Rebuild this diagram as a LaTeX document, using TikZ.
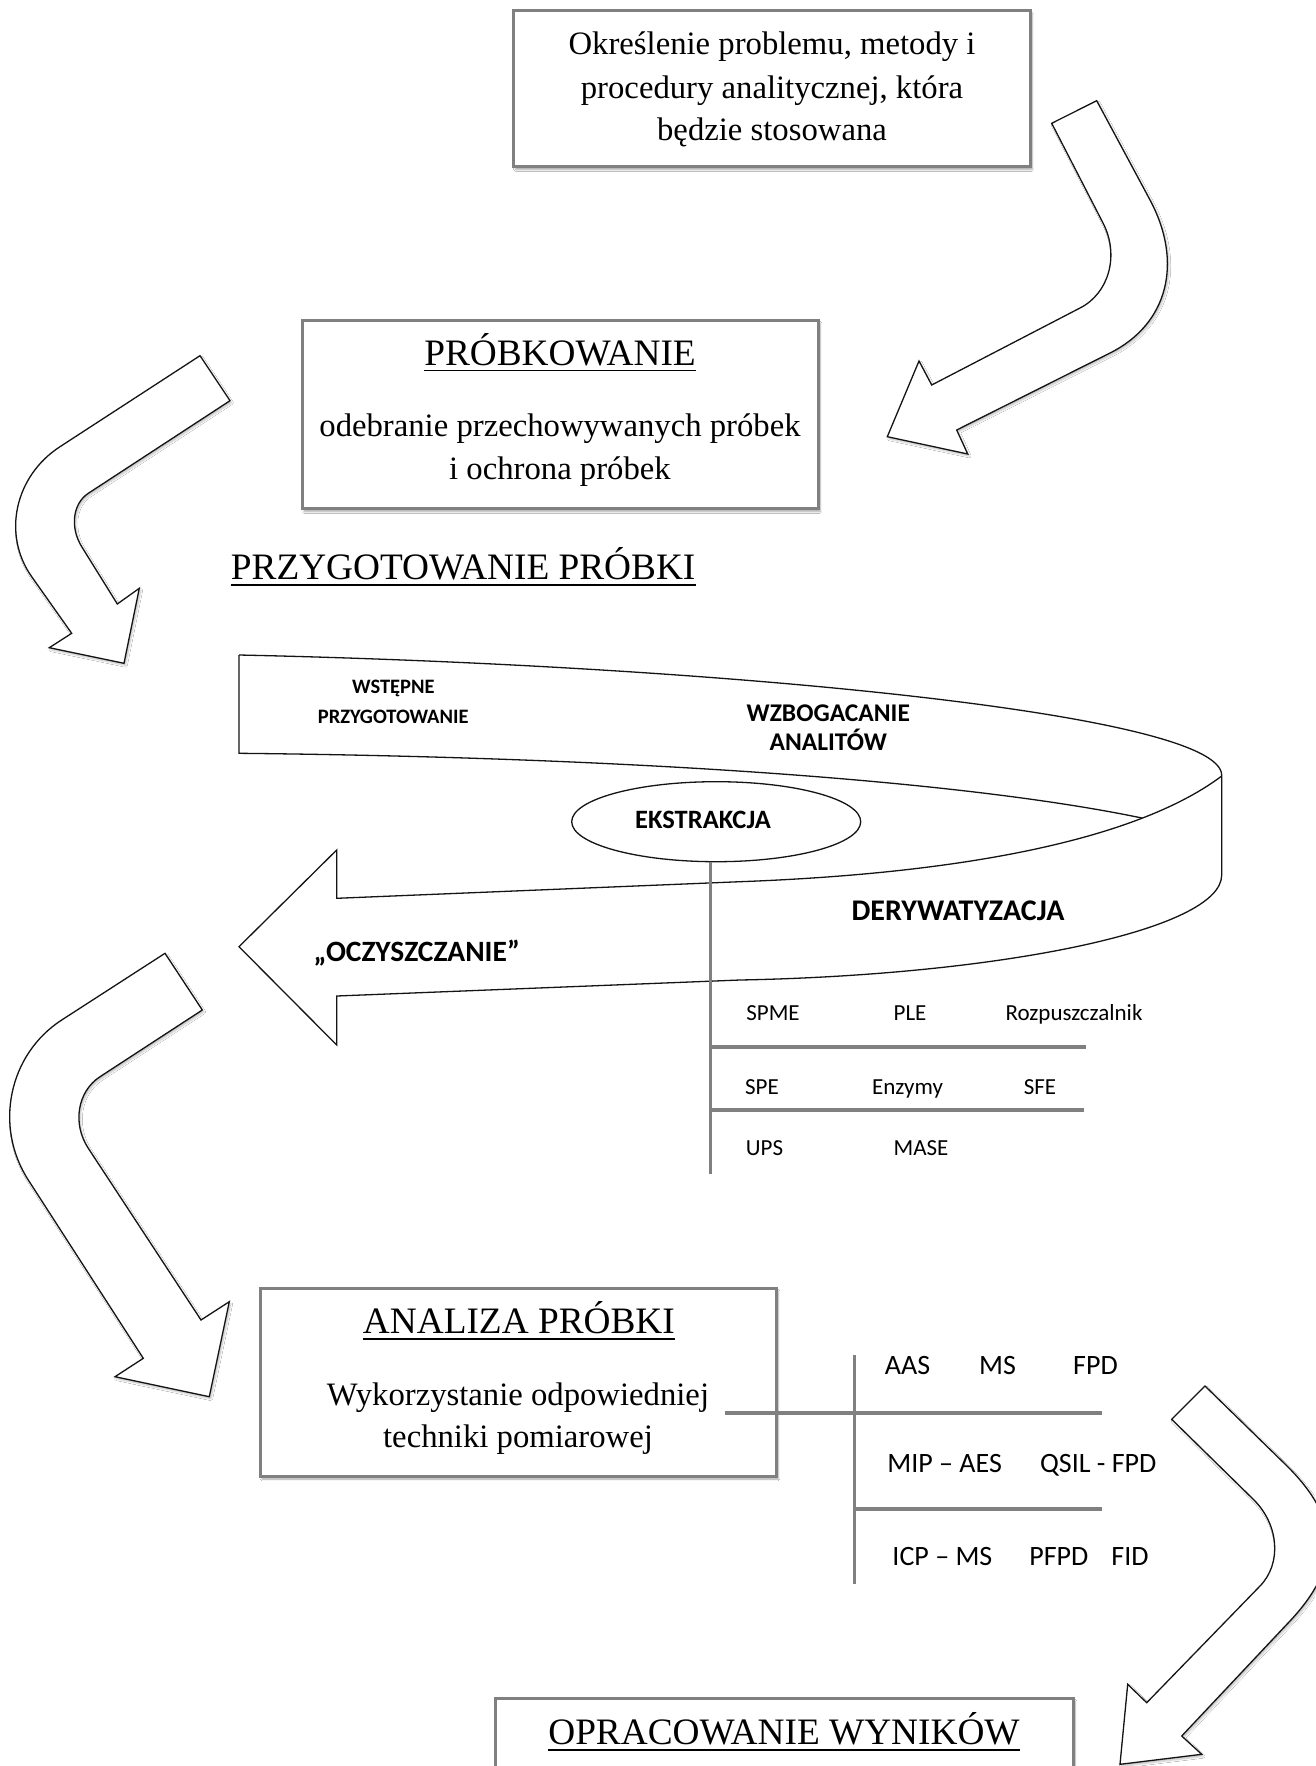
\documentclass[tikz,border=0pt]{standalone}
\usepackage{fontspec}
\setmainfont{Liberation Serif}
\newfontfamily\carl{Carlito}
\usetikzlibrary{shapes.geometric,shadows.blur}
\definecolor{boxgray}{RGB}{128,128,128}
\definecolor{linegray}{RGB}{128,128,128}
\definecolor{ink}{RGB}{20,20,20}
\begin{document}
\begin{tikzpicture}[x=1pt,y=-1pt,
  box/.style={draw=boxgray, line width=3pt, fill=white, rectangle, inner sep=0pt,
    blur shadow={shadow xshift=2pt, shadow yshift=-3pt, shadow opacity=35, shadow blur steps=6}},
  serif/.style={inner sep=0pt, anchor=base, font=\fontsize{32.7}{40}\selectfont},
  titletxt/.style={inner sep=0pt, anchor=base, font=\fontsize{37.3}{44}\selectfont},
  ul/.style={line width=1.8pt},
  blockarrow/.style={draw=ink, line width=1.3pt, fill=white, line join=miter,
    blur shadow={shadow xshift=1.5pt, shadow yshift=-2pt, shadow opacity=25, shadow blur steps=5}},
  ribbon/.style={draw=ink, line width=1.3pt},
  gline/.style={draw=linegray, line width=3pt},
  gthick/.style={draw=linegray, line width=4pt},
  sbold/.style={inner sep=0pt, anchor=base, font=\carl\bfseries\fontsize{#1}{#1}\selectfont},
  sreg/.style={inner sep=0pt, anchor=base, font=\carl\fontsize{#1}{#1}\selectfont}
]
\path[use as bounding box, fill=white] (0,0) rectangle (1315,1766);

% ---------- block arrows ----------
% A (top right)
\draw[blockarrow] (1051.7,123.3) -- (1103,223) .. controls (1119.5,254.9) and (1109.2,293.2) .. (1080,308)
  -- (931.7,385) -- (919,361) -- (887.3,436.7) -- (967.7,454) -- (956.7,430) -- (1110,353)
  .. controls (1167.6,324.2) and (1183.6,263) .. (1150,200) -- (1096.7,100.7) -- cycle;
% B (upper left)
\draw[blockarrow] (200,355.7) -- (60,446.7) .. controls (14.7,476.1) and (2,534.6) .. (31.7,576.7)
  -- (71.7,633.3) -- (49.3,647.7) -- (124,663.3) -- (139.3,588.3) -- (117.3,604) -- (81.7,546.7)
  .. controls (69.8,527.5) and (72.7,503.5) .. (88.3,493.3) -- (230,400.7) -- cycle;
% C (lower left)
\draw[blockarrow] (165,953.3) -- (61.7,1020) .. controls (8.7,1054.3) and (-6.3,1126.3) .. (28.3,1180)
  -- (143.3,1358.3) -- (115,1376.7) -- (209.3,1396.7) -- (229.3,1301.7) -- (201,1320) -- (88.3,1148.3)
  .. controls (72.1,1123.7) and (77.4,1091.4) .. (100,1076.7) -- (202.3,1010) -- cycle;
% D (lower right)
\draw[blockarrow] (1171.7,1419.3) -- (1253.3,1499.3) .. controls (1279,1524.4) and (1282,1563.4) .. (1260,1586)
  -- (1146.7,1702.7) -- (1127.7,1684.3) -- (1120,1764.3) -- (1201.7,1754.3) -- (1181.7,1736) -- (1289,1622)
  .. controls (1341.9,1566.2) and (1341.1,1519.1) .. (1286,1465) -- (1205,1386) -- cycle;

% ---------- boxes ----------
\node[box, minimum width=516.6pt, minimum height=155.8pt] (b1) at (771.7,88.6) {};
\node[serif] (b1l1) at (772,54.7) {Określenie problemu, metody i};
\node[serif] (b1l2) at (772,98.4) {procedury analitycznej, która};
\node[serif] (b1l3) at (772,140.8) {będzie stosowana};

\node[box, minimum width=516pt, minimum height=188.5pt] (b2) at (560,414.25) {};
\node[titletxt] (t2) at (560,365.5) {PRÓBKOWANIE};
\draw[ul] ([yshift=-5pt]t2.base west) -- ([yshift=-5pt]t2.base east);
\node[serif] (b2l1) at (560,436.3) {odebranie przechowywanych próbek};
\node[serif] (b2l2) at (560,479.2) {i ochrona próbek};

\node[titletxt, anchor=base west] (t3) at (230.7,579.8) {PRZYGOTOWANIE PRÓBKI};
\draw[ul] ([yshift=-5pt]t3.base west) -- ([yshift=-5pt]t3.base east);

% ---------- ribbon ----------
\draw[ribbon] (239,655) .. controls (700,665) and (1221.7,712) .. (1221.7,775.3) -- (1221.7,875)
  .. controls (1221.7,930) and (1000,975) .. (740,980) -- (336.7,996) -- (336.7,1045) -- (239,946.7)
  -- (336.7,850) -- (336.7,898.3) -- (740,881.7) .. controls (1000,872) and (1150,830) .. (1221.7,776);
\draw[ribbon] (239,655) -- (239,753.3) .. controls (600,757) and (950,778) .. (1142.4,818.1);

\node[ribbon, ellipse, minimum width=289pt, minimum height=80pt, inner sep=0pt] (ek) at (716.2,821.7) {};

\node[sbold=20.5] (wst1) at (393.3,693.3) {WSTĘPNE};
\node[sbold=20.5] (wst2) at (393.3,723.3) {PRZYGOTOWANIE};
\node[sbold=25.5] (wzb1) at (828.3,721.7) {WZBOGACANIE};
\node[sbold=25.5] (wzb2) at (828.3,750) {ANALITÓW};
\node[sbold=26.5] (ekt) at (703,828.3) {EKSTRAKCJA};
\node[sbold=30] (der) at (958,920) {DERYWATYZACJA};
\node[sbold=29.5] (ocz) at (416.7,961.7) {„OCZYSZCZANIE”};

% extraction table
\coordinate (ebot) at (710,1174);
\coordinate (eh1) at (1086,1047);
\coordinate (eh2) at (1084,1109.5);
\draw[gline] (ek.south -| ebot) -- (ebot);
\draw[gthick] (eh1 -| ebot) -- (eh1);
\draw[gthick] (eh2 -| ebot) -- (eh2);

\node[sreg=23] (e11) at (773,1020) {SPME};
\node[sreg=23] (e12) at (910,1020) {PLE};
\node[sreg=23] (e13) at (1074,1020) {Rozpuszczalnik};
\node[sreg=23] (e21) at (762,1094) {SPE};
\node[sreg=23] (e22) at (907.5,1094) {Enzymy};
\node[sreg=23] (e23) at (1040,1094) {SFE};
\node[sreg=23] (e31) at (764.5,1155.5) {UPS};
\node[sreg=23] (e32) at (921,1155.5) {MASE};

% ---------- analysis ----------
\node[box, minimum width=516pt, minimum height=188pt] (b3) at (518,1382) {};
\node[titletxt] (t4) at (518.9,1333.6) {ANALIZA PRÓBKI};
\draw[ul] ([yshift=-5pt]t4.base west) -- ([yshift=-5pt]t4.base east);
\node[serif] (b3l1) at (518,1405.8) {Wykorzystanie odpowiedniej};
\node[serif] (b3l2) at (518,1447.3) {techniki pomiarowej};

\coordinate (atop) at (854.5,1355);
\coordinate (abot) at (854.5,1584);
\coordinate (ah1r) at (1101.5,1413);
\coordinate (ah2r) at (1101.5,1508.7);
\draw[gthick] (725,1413) -- (ah1r);
\draw[gline] (atop) -- (abot);
\draw[gthick] (ah2r -| atop) -- (ah2r);

\node[sreg=28] (a11) at (907.5,1374.5) {AAS};
\node[sreg=28] (a12) at (997.5,1374.5) {MS};
\node[sreg=28] (a13) at (1095.5,1374.5) {FPD};
\node[sreg=28] (a21) at (944.6,1472.7) {MIP – AES};
\node[sreg=28] (a22) at (1098.3,1472.7) {QSIL - FPD};
\node[sreg=28] (a31) at (942.4,1565.3) {ICP – MS};
\node[sreg=28] (a32) at (1058.8,1565.3) {PFPD};
\node[sreg=28] (a33) at (1130,1565.3) {FID};

% ---------- results ----------
\node[box, minimum width=578pt, minimum height=188pt] (b4) at (784,1792) {};
\node[titletxt] (t5) at (784,1744.6) {OPRACOWANIE WYNIKÓW};
\draw[ul] ([yshift=-5pt]t5.base west) -- ([yshift=-5pt]t5.base east);
\end{tikzpicture}
\end{document}
